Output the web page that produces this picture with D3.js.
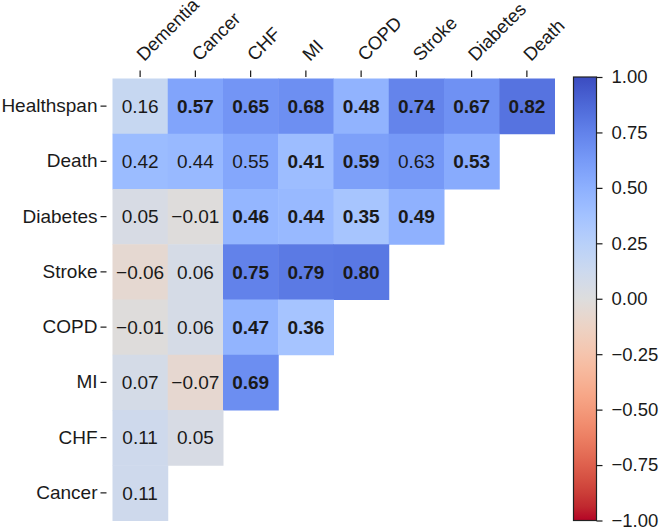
<!DOCTYPE html>
<html>
<head>
<meta charset="utf-8">
<script src="https://cdn.jsdelivr.net/npm/d3@7"></script>
<style>
  html, body { margin: 0; padding: 0; background: #fff; }
  svg { display: block; font-family: "Liberation Sans", Arial, Helvetica, sans-serif; }
</style>
</head>
<body>
<svg id="chart" width="661" height="528"></svg>
<script>
// ---- data ----
const rowLabels = ["Healthspan", "Death", "Diabetes", "Stroke", "COPD", "MI", "CHF", "Cancer"];
const colLabels = ["Dementia", "Cancer", "CHF", "MI", "COPD", "Stroke", "Diabetes", "Death"];
const values = [
  [0.16, 0.57, 0.65, 0.68, 0.48, 0.74, 0.67, 0.82],
  [0.42, 0.44, 0.55, 0.41, 0.59, 0.63, 0.53],
  [0.05, -0.01, 0.46, 0.44, 0.35, 0.49],
  [-0.06, 0.06, 0.75, 0.79, 0.80],
  [-0.01, 0.06, 0.47, 0.36],
  [0.07, -0.07, 0.69],
  [0.11, 0.05],
  [0.11]
];
const bold = [
  [0, 1, 1, 1, 1, 1, 1, 1],
  [0, 0, 0, 1, 1, 0, 1],
  [0, 0, 1, 1, 1, 1],
  [0, 0, 1, 1, 1],
  [0, 0, 1, 1],
  [0, 0, 1],
  [0, 0],
  [0]
];
const colorbarTicks = [1, 0.75, 0.5, 0.25, 0, -0.25, -0.5, -0.75, -1];
// coolwarm colormap stops (low -> high)
const coolwarm = [
  [59,76,192],[68,90,204],[77,104,215],[87,117,225],[98,130,234],[108,142,241],
  [119,154,247],[130,165,251],[141,176,254],[152,185,255],[163,194,255],[174,201,253],
  [184,208,249],[194,213,244],[204,217,238],[213,219,230],[221,221,221],[229,216,209],
  [236,211,197],[241,204,185],[245,196,173],[247,187,160],[247,177,148],[247,166,135],
  [244,154,123],[241,141,111],[236,127,99],[229,112,88],[222,96,77],[213,80,66],
  [203,62,56],[192,40,47],[180,4,38]
];

// ---- layout ----
const svg = d3.select("#chart");
const gridLeft = 112.5, gridTop = 78.5, gridSize = 442;
const textColor = "#1a1a1a";

const x = d3.scaleBand().domain(colLabels.map((d, i) => i)).range([gridLeft, gridLeft + gridSize]);
const y = d3.scaleBand().domain(rowLabels.map((d, i) => i)).range([gridTop, gridTop + gridSize]);

// reversed coolwarm: +1 -> blue, -1 -> red
const color = d3.scaleLinear()
  .domain(coolwarm.map((d, i) => 1 - 2 * i / (coolwarm.length - 1)))
  .range(coolwarm.map(c => d3.rgb(c[0], c[1], c[2]).toString()))
  .interpolate(d3.interpolateRgb)
  .clamp(true);

const cells = [];
values.forEach((row, r) => row.forEach((v, c) => cells.push({ r, c, v, b: bold[r][c] })));

const fmt = d3.format(".2f");

svg.append("g").selectAll("rect").data(cells).join("rect")
  .attr("x", d => x(d.c))
  .attr("y", d => y(d.r))
  .attr("width", x.bandwidth() + 0.5)
  .attr("height", y.bandwidth() + 0.5)
  .attr("fill", d => color(d.v));

svg.append("g").selectAll("text").data(cells).join("text")
  .attr("x", d => x(d.c) + x.bandwidth() / 2)
  .attr("y", d => y(d.r) + y.bandwidth() / 2)
  .attr("dy", "0.36em")
  .attr("text-anchor", "middle")
  .attr("font-size", 19)
  .attr("font-weight", d => d.b ? "bold" : "normal")
  .attr("fill", textColor)
  .text(d => fmt(d.v));

// left axis
const yAxis = svg.append("g")
  .attr("transform", "translate(106.5,0)")
  .call(d3.axisLeft(d3.scaleBand().domain(rowLabels).range([gridTop, gridTop + gridSize]))
    .tickSize(6).tickPadding(3));
yAxis.select(".domain").remove();
yAxis.selectAll("line").attr("stroke", textColor).attr("stroke-width", 1.2);
yAxis.selectAll("text").attr("font-size", 19).attr("fill", textColor)
  .attr("font-family", "Liberation Sans, Arial, sans-serif");

// top axis
const xAxis = svg.append("g")
  .attr("transform", "translate(0,77)")
  .call(d3.axisTop(d3.scaleBand().domain(colLabels).range([gridLeft, gridLeft + gridSize]))
    .tickSize(6.5).tickFormat(""));
xAxis.select(".domain").remove();
xAxis.selectAll("line").attr("stroke", textColor).attr("stroke-width", 1.2);

svg.append("g").selectAll("text").data(colLabels).join("text")
  .attr("transform", (d, i) => `translate(${x(i) + x.bandwidth() / 2 + 4},62) rotate(-45)`)
  .attr("text-anchor", "start")
  .attr("font-size", 18.5)
  .attr("fill", textColor)
  .text(d => d);

// colorbar
const cbX = 573.5, cbW = 23, cbTop = 77, cbBottom = 520.5;
const cbScale = d3.scaleLinear().domain([-1, 1]).range([cbBottom, cbTop]);
const defs = svg.append("defs");
const grad = defs.append("linearGradient").attr("id", "cbgrad")
  .attr("x1", 0).attr("y1", 1).attr("x2", 0).attr("y2", 0);
// stops ordered from -1 (bottom, offset 0) to +1 (top, offset 1)
coolwarm.map((c, i) => 1 - 2 * i / (coolwarm.length - 1))
  .sort((a, b) => a - b)
  .forEach(v => {
    grad.append("stop").attr("offset", (v + 1) / 2).attr("stop-color", color(v));
  });
svg.append("rect")
  .attr("x", cbX).attr("y", cbScale(1))
  .attr("width", cbW).attr("height", cbScale(-1) - cbScale(1))
  .attr("fill", "url(#cbgrad)")
  .attr("stroke", "#222").attr("stroke-width", 1.2);

const cbAxis = svg.append("g")
  .attr("transform", `translate(${cbX + cbW},0)`)
  .call(d3.axisRight(cbScale).tickValues(colorbarTicks).tickFormat(fmt).tickSize(6).tickPadding(9));
cbAxis.select(".domain").remove();
cbAxis.selectAll("line").attr("stroke", textColor).attr("stroke-width", 1.2);
cbAxis.selectAll("text").attr("font-size", 18.5).attr("fill", textColor)
  .attr("font-family", "Liberation Sans, Arial, sans-serif");
</script>
</body>
</html>
